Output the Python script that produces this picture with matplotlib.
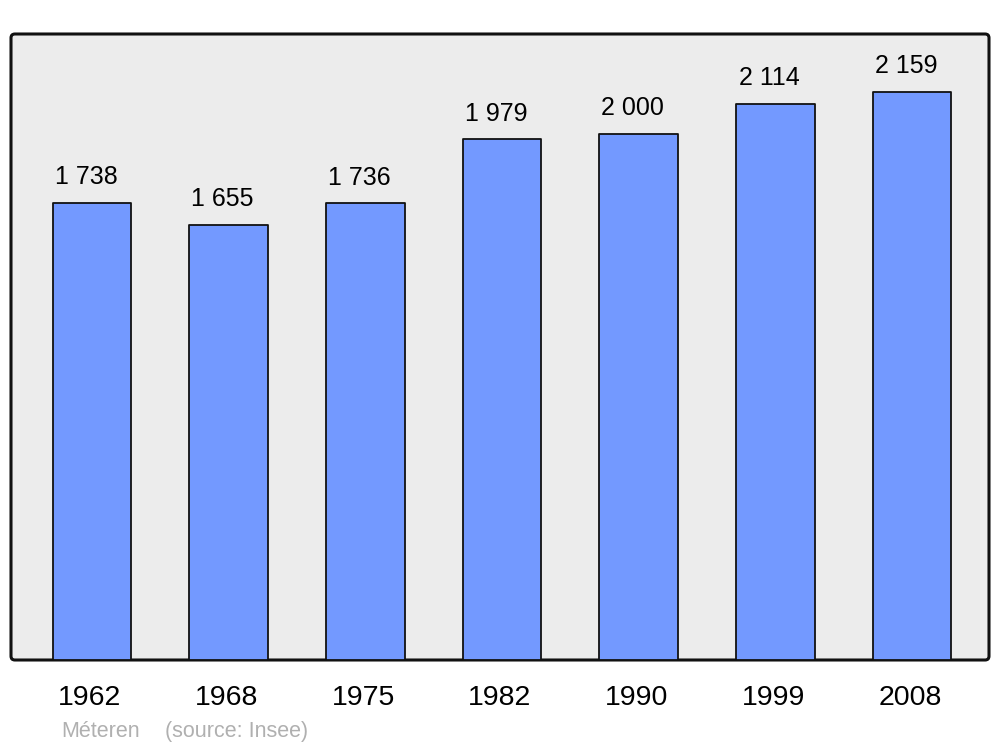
import matplotlib as mpl
from matplotlib import pyplot as plt
from matplotlib.patches import FancyBboxPatch
import numpy as np

plt.rcParams['font.family'] = ['Liberation Sans', 'DejaVu Sans']

years = ['1962', '1968', '1975', '1982', '1990', '1999', '2008']
population = [1738, 1655, 1736, 1979, 2000, 2114, 2159]
value_labels = ['1 738', '1 655', '1 736', '1 979', '2 000', '2 114', '2 159']
town = 'Méteren'
source = '(source: Insee)'

fig = plt.figure(figsize=(10, 7.47), dpi=100)
ax = fig.add_axes([0.011, 1 - 660/747, 0.978, 626/747])
ax.set_facecolor('none')

# rounded frame with grey fill
frame = FancyBboxPatch((0, 0), 1, 1, boxstyle='round,pad=0,rounding_size=0.004',
                       mutation_aspect=978/626, transform=ax.transAxes,
                       facecolor='#ececec', edgecolor='#111111', linewidth=2.2,
                       zorder=0, clip_on=False)
ax.add_patch(frame)
for s in ax.spines.values():
    s.set_visible(False)

x = np.arange(len(years))
bars = ax.bar(x, population, width=0.575, color='#7399ff', edgecolor='#111111',
              linewidth=1.3, zorder=2)
for b in bars:
    b.set_joinstyle('round')

for xi, v, lab in zip(x, population, value_labels):
    ax.annotate(lab, (xi, v), xytext=(-4.3, 13.5), textcoords='offset points',
                ha='center', va='baseline', fontsize=18, color='black')

for xi, yr in zip(x, years):
    ax.annotate(yr, (xi, 0), xycoords=('data', 'axes fraction'), xytext=(-1.5, -32.4),
                textcoords='offset points', ha='center', va='baseline',
                fontsize=20.5, color='black')

ax.set_xlim(-0.593, 6.563)
ax.set_ylim(0, 2380)
ax.set_xticks([])
ax.set_yticks([])

fig.text(0.061, 1 - 737/747, town, fontsize=15.5, color='#b0b0b0', va='baseline')
fig.text(0.165, 1 - 737/747, source, fontsize=15.5, color='#b0b0b0', va='baseline')

fig.savefig('out.png', dpi=100)
